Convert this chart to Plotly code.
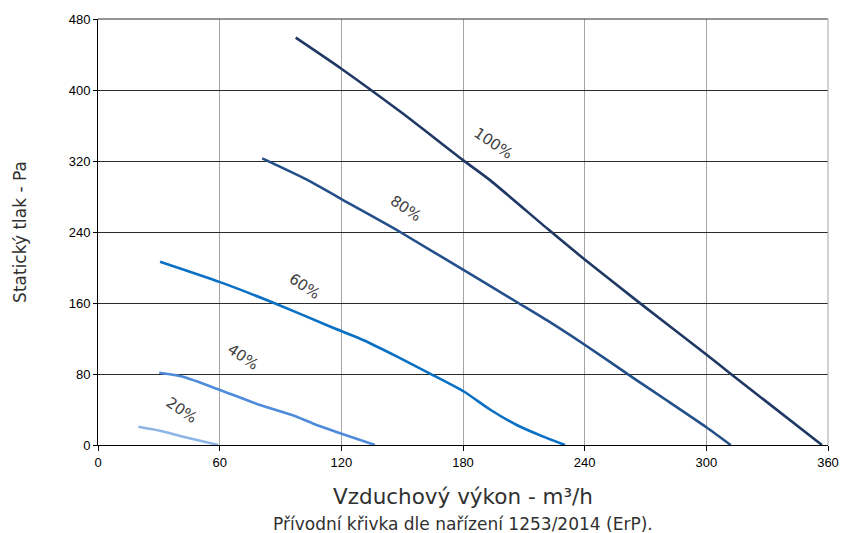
import plotly.graph_objects as go

# data (airflow m3/h, static pressure Pa)
x100 = [97.5, 120, 150, 180, 193, 222, 240, 266.6, 300, 311, 357]
y100 = [459, 424, 374, 321, 299, 243, 209, 161, 102, 82, 0]

x80 = [81, 103, 124, 149, 183.3, 207.3, 222.5, 240, 265, 280, 300, 312]
y80 = [323, 299, 272, 240, 193, 160, 139, 113, 74, 51, 20, 0]

x60 = [30.6, 60.2, 86.5, 114.4, 131, 148, 163.7, 180.6, 193.3, 206.5, 219.6, 230.3]
y60 = [206.5, 183.5, 160.3, 133.5, 118, 99, 80.5, 60, 40, 22.5, 9.4, 0]

x40 = [30.2, 42, 60.2, 79.9, 98, 107.8, 120.5, 136.6]
y40 = [81.5, 77, 62, 45, 31.9, 22.5, 12.4, 0]

x20 = [19.9, 30.6, 42, 59.3]
y20 = [20.6, 16.1, 9.4, 0]

series = [
    ("100%", x100, y100, "#1f3864"),
    ("80%", x80, y80, "#24508a"),
    ("60%", x60, y60, "#0a70c4"),
    ("40%", x40, y40, "#4f8bdb"),
    ("20%", x20, y20, "#8fb5e6"),
]

label_text = ["100%", "80%", "60%", "40%", "20%"]
label_x = [194.8, 151.4, 101.6, 71.5, 41]
label_y = [340.3, 266.5, 179.2, 98.6, 39.4]

x_ticks = [0, 60, 120, 180, 240, 300, 360]
y_ticks = [0, 80, 160, 240, 320, 400, 480]

fig = go.Figure()
for name, xs, ys, col in series:
    fig.add_trace(go.Scatter(x=xs, y=ys, mode="lines", name=name,
                             line=dict(color=col, width=2.6, shape="spline", smoothing=0.6),
                             showlegend=False))

for t, lx, ly in zip(label_text, label_x, label_y):
    fig.add_annotation(x=lx, y=ly, text=t, showarrow=False, textangle=34,
                       font=dict(family="DejaVu Sans", size=15, color="#404040"))

fig.add_annotation(xref="paper", yref="paper", x=0.5, y=-0.122, yanchor="middle",
                   text="Vzduchový výkon - m³/h", showarrow=False,
                   font=dict(family="DejaVu Sans", size=21.5, color="#303030"))
fig.add_annotation(xref="paper", yref="paper", x=0.5, y=-0.185, yanchor="middle",
                   text="Přívodní křivka dle nařízení 1253/2014 (ErP).", showarrow=False,
                   font=dict(family="DejaVu Sans", size=17, color="#303030"))
fig.add_annotation(xref="paper", yref="paper", x=-0.107, y=0.5, xanchor="center",
                   text="Statický tlak - Pa", showarrow=False, textangle=-90,
                   font=dict(family="DejaVu Sans", size=17, color="#303030"))

# frame lines at the top and right of the plot area
fig.add_shape(type="line", xref="paper", yref="paper", x0=0, x1=1, y0=1, y1=1,
              line=dict(color="#2b2b2b", width=1))
fig.add_shape(type="line", xref="paper", yref="paper", x0=1, x1=1, y0=0, y1=1,
              line=dict(color="#a6a6a6", width=1))

fig.update_xaxes(range=[0, 360], tickvals=x_ticks, showgrid=True, gridcolor="#a6a6a6",
                 gridwidth=1, showline=True, linecolor="#000000", linewidth=1,
                 ticks="outside", ticklen=5, tickcolor="#000000", zeroline=False,
                 automargin=False,
                 tickfont=dict(family="Liberation Sans", size=13, color="#000000"))
fig.update_yaxes(range=[0, 480], tickvals=y_ticks, showgrid=True, gridcolor="#2b2b2b",
                 gridwidth=1, showline=True, linecolor="#000000", linewidth=1,
                 ticks="outside", ticklen=4, tickcolor="#000000", zeroline=False,
                 automargin=False,
                 tickfont=dict(family="Liberation Sans", size=13, color="#000000"))

fig.update_layout(width=843, height=533, margin=dict(l=98, r=15, t=19, b=88, autoexpand=False),
                  paper_bgcolor="white", plot_bgcolor="white")

fig.write_html("out.html", config={"displayModeBar": False},
               post_script="document.body.style.margin='0';")
